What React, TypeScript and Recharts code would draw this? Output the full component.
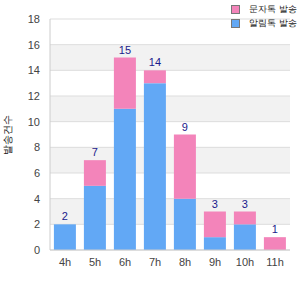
import React from 'react'
import {
  BarChart,
  Bar,
  XAxis,
  YAxis,
  CartesianGrid,
  LabelList,
  Label
} from 'recharts'

const hours = ['4h', '5h', '6h', '7h', '8h', '9h', '10h', '11h']
const blueValues = [2, 5, 11, 13, 4, 1, 2, 0]
const pinkValues = [0, 2, 4, 1, 5, 2, 1, 1]
const yTicks = [0, 2, 4, 6, 8, 10, 12, 14, 16, 18]

const blueName = '알림톡 발송'
const pinkName = '문자톡 발송'
const yLabel = '발송건수'

const BLUE = '#62a8f5'
const PINK = '#f384ba'

// total goes on whichever segment is on top of the stack
const data = hours.map((h, i) => {
  const total = blueValues[i] + pinkValues[i]
  return {
    hour: h,
    blue: blueValues[i],
    pink: pinkValues[i],
    blueTop: pinkValues[i] === 0 ? total : null,
    pinkTop: pinkValues[i] > 0 ? total : null
  }
})

// Legend: pink on top, blue below, drawn over the chart's top right corner
const LegendBox = () => (
  <div
    style={{
      position: 'absolute',
      top: 2,
      left: 231,
      fontSize: 9,
      color: '#222',
      lineHeight: '14px',
      whiteSpace: 'nowrap'
    }}
  >
    {[
      { name: pinkName, color: PINK },
      { name: blueName, color: BLUE }
    ].map((item) => (
      <div key={item.name} style={{ display: 'flex', alignItems: 'center' }}>
        <span
          style={{
            display: 'inline-block',
            width: 7,
            height: 7,
            background: item.color,
            border: '1px solid #777',
            marginRight: 9
          }}
        />
        {item.name}
      </div>
    ))}
  </div>
)

export default function App() {
  return (
    <div
      style={{
        position: 'absolute',
        left: 0,
        top: 0,
        width: 300,
        height: 300,
        fontFamily: 'Arial, sans-serif'
      }}
    >
      <BarChart
        width={300}
        height={300}
        data={data}
        margin={{ top: 19, right: 10, left: 0, bottom: 0 }}
        barCategoryGap="13%"
      >
        <CartesianGrid
          vertical={false}
          stroke="#dddddd"
          horizontalFill={['#ffffff', '#f2f2f2']}
        />
        <XAxis
          dataKey="hour"
          height={50}
          tickLine={false}
          tickSize={6}
          tickMargin={2}
          stroke="#cccccc"
          tick={{ fill: '#444', fontSize: 11 }}
        />
        <YAxis
          width={50}
          domain={[0, 18]}
          ticks={yTicks}
          interval={0}
          tickLine={false}
          tickSize={6}
          tickMargin={4}
          stroke="#cccccc"
          tick={{ fill: '#444', fontSize: 11 }}
        >
          <Label
            value={yLabel}
            angle={-90}
            position="insideLeft"
            offset={7}
            style={{ fill: '#222', fontSize: 10, textAnchor: 'middle' }}
          />
        </YAxis>
        <Bar dataKey="blue" stackId="a" fill={BLUE} isAnimationActive={false}>
          <LabelList dataKey="blueTop" position="top" offset={4} fill="#1a1a8c" fontSize={11} />
        </Bar>
        <Bar dataKey="pink" stackId="a" fill={PINK} isAnimationActive={false}>
          <LabelList dataKey="pinkTop" position="top" offset={4} fill="#1a1a8c" fontSize={11} />
        </Bar>
      </BarChart>
      <LegendBox />
    </div>
  )
}
